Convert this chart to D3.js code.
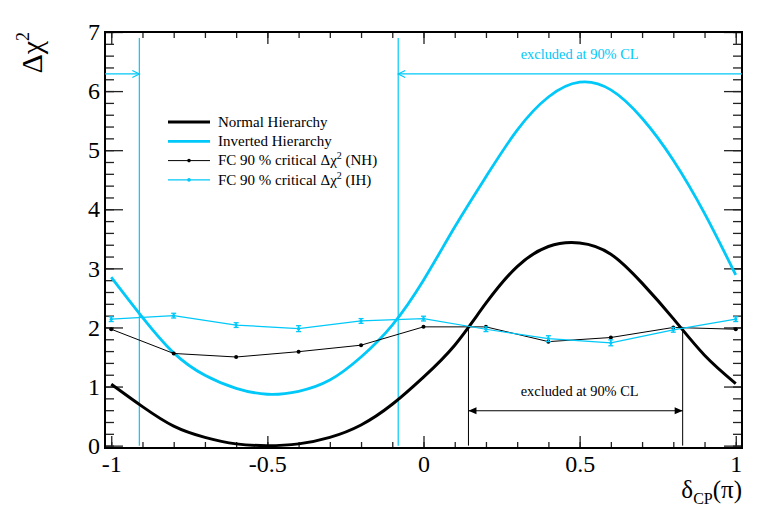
<!DOCTYPE html>
<html>
<head>
<meta charset="utf-8">
<script src="https://cdnjs.cloudflare.com/ajax/libs/d3/7.8.5/d3.min.js"></script>
<style>
  body { margin: 0; background: #fff; }
  svg { display: block; font-family: "Liberation Serif", "Times New Roman", serif; }
</style>
</head>
<body>
<svg id="drawing_region"></svg>
<script>
const curveX = [-1, -0.9, -0.8, -0.7, -0.6, -0.5, -0.4, -0.3, -0.2, -0.1, 0,
                0.1, 0.2, 0.3, 0.4, 0.5, 0.6, 0.7, 0.8, 0.9, 1];
const nhChi2 = [1.04, 0.66, 0.33, 0.14, 0.03, 0.0, 0.03, 0.14, 0.35, 0.70, 1.16,
                1.70, 2.41, 3.03, 3.37, 3.43, 3.24, 2.75, 2.15, 1.53, 1.05];
const ihChi2 = [2.85, 2.17, 1.57, 1.19, 0.97, 0.87, 0.92, 1.11, 1.50, 2.04, 2.80,
                3.70, 4.55, 5.34, 5.90, 6.15, 6.02, 5.54, 4.83, 3.93, 2.89];

// Feldman-Cousins critical values
const fcX = [-1, -0.8, -0.6, -0.4, -0.2, 0, 0.2, 0.4, 0.6, 0.8, 1];
const fcNH = [1.97, 1.56, 1.50, 1.59, 1.70, 2.01, 2.01, 1.76, 1.83, 2.00, 1.97];
const fcIH = [2.14, 2.20, 2.04, 1.98, 2.11, 2.15, 1.97, 1.81, 1.74, 1.96, 2.14];
const fcIHErr = [0.04, 0.04, 0.04, 0.05, 0.04, 0.04, 0.04, 0.05, 0.05, 0.04, 0.04];

// excluded region boundaries
const ihLimits = [-0.91, -0.081];
const nhLimits = [0.144, 0.83];
const nhCrossing = 2.01;

const xTicks = [-1, -0.5, 0, 0.5, 1];
const xTickLabels = ["-1", "-0.5", "0", "0.5", "1"];
const yTicks = [0, 1, 2, 3, 4, 5, 6, 7];
const yTickLabels = ["0", "1", "2", "3", "4", "5", "6", "7"];

const legendLabels = ["Normal Hierarchy", "Inverted Hierarchy",
                      "FC 90 % critical Δχ^2 (NH)", "FC 90 % critical Δχ^2 (IH)"];

const black = "#000";
const cyan = "#00c8f8";
const serif = "'Liberation Serif', 'Times New Roman', serif";

const config = {
    width: 760,
    height: 522,
    margin: {top: 32, right: 18, bottom: 74, left: 105}
};

const svg = d3.select("#drawing_region")
    .attr("width", config.width)
    .attr("height", config.height);

const plotL = config.margin.left;
const plotR = config.width - config.margin.right;
const plotT = config.margin.top;
const plotB = config.height - config.margin.bottom;

const xscale = d3.scaleLinear().domain([-1.02, 1.02]).range([plotL, plotR]);
const yscale = d3.scaleLinear().domain([-0.04, 7]).range([plotB, plotT]);

// ---- axes (ROOT style, ticks inside, on all four sides)
const xMinor = d3.range(-10, 11).map(i => i / 10);
const yMinor = d3.range(0, 36).map(i => i / 5);

function drawAxis(axis, tx, ty) {
    const g = svg.append("g")
        .attr("transform", `translate(${tx},${ty})`)
        .call(axis)
        .attr("font-family", serif)
        .attr("font-size", 24);
    g.select(".domain").remove();
    g.selectAll("line").attr("stroke", "#222").attr("stroke-width", 1.3);
    g.selectAll("text").attr("fill", "#000");
    return g;
}

drawAxis(d3.axisBottom(xscale).tickValues(xMinor).tickSize(-6).tickFormat(""), 0, plotB);
drawAxis(d3.axisBottom(xscale).tickValues(xTicks).tickSize(-12).tickPadding(7)
    .tickFormat((d, i) => xTickLabels[i]), 0, plotB);
drawAxis(d3.axisTop(xscale).tickValues(xMinor).tickSize(-6).tickFormat(""), 0, plotT);
drawAxis(d3.axisTop(xscale).tickValues(xTicks).tickSize(-12).tickFormat(""), 0, plotT);

drawAxis(d3.axisLeft(yscale).tickValues(yMinor).tickSize(-9).tickFormat(""), plotL, 0);
drawAxis(d3.axisLeft(yscale).tickValues(yTicks).tickSize(-18).tickPadding(5)
    .tickFormat((d, i) => yTickLabels[i]), plotL, 0);
drawAxis(d3.axisRight(yscale).tickValues(yMinor).tickSize(-9).tickFormat(""), plotR, 0);
drawAxis(d3.axisRight(yscale).tickValues(yTicks).tickSize(-18).tickFormat(""), plotR, 0);

svg.append("rect")
    .attr("x", plotL).attr("y", plotT)
    .attr("width", plotR - plotL).attr("height", plotB - plotT)
    .attr("fill", "none").attr("stroke", "#000").attr("stroke-width", 2);

// axis titles
svg.append("text")
    .attr("transform", `translate(42,${plotT}) rotate(-90)`)
    .attr("text-anchor", "end")
    .attr("font-size", 30)
    .text("Δχ")
    .append("tspan").attr("font-size", 18).attr("dy", -13).text("2");

const xt = svg.append("text")
    .attr("x", plotR).attr("y", 498)
    .attr("text-anchor", "end")
    .attr("font-size", 25);
xt.append("tspan").text("δ");
xt.append("tspan").attr("font-size", 16).attr("dy", 6).text("CP");
xt.append("tspan").attr("dy", -6).text("(π)");

// ---- excluded region markers
const chart = svg.append("g");

ihLimits.forEach(v => {
    chart.append("line")
        .attr("x1", xscale(v)).attr("x2", xscale(v))
        .attr("y1", yscale(6.9)).attr("y2", yscale(0))
        .attr("stroke", cyan).attr("stroke-width", 1.2);
});
nhLimits.forEach(v => {
    chart.append("line")
        .attr("x1", xscale(v)).attr("x2", xscale(v))
        .attr("y1", yscale(nhCrossing)).attr("y2", yscale(0))
        .attr("stroke", black).attr("stroke-width", 1);
});

// cyan arrows (open heads)
const ihArrowY = yscale(6.29);
function openHead(x, y, dir) {
    return `M${x - dir * 7},${y - 3.5}L${x},${y}L${x - dir * 7},${y + 3.5}`;
}
chart.append("line")
    .attr("x1", xscale(-1.02)).attr("x2", xscale(ihLimits[0]))
    .attr("y1", ihArrowY).attr("y2", ihArrowY)
    .attr("stroke", cyan).attr("stroke-width", 1.2);
chart.append("path").attr("d", openHead(xscale(ihLimits[0]), ihArrowY, 1))
    .attr("fill", "none").attr("stroke", cyan).attr("stroke-width", 1.2);
chart.append("line")
    .attr("x1", xscale(1.02)).attr("x2", xscale(ihLimits[1]))
    .attr("y1", ihArrowY).attr("y2", ihArrowY)
    .attr("stroke", cyan).attr("stroke-width", 1.2);
chart.append("path").attr("d", openHead(xscale(ihLimits[1]), ihArrowY, -1))
    .attr("fill", "none").attr("stroke", cyan).attr("stroke-width", 1.2);
chart.append("text")
    .attr("x", xscale(0.5)).attr("y", yscale(6.54))
    .attr("text-anchor", "middle").attr("font-size", 14.4).attr("fill", cyan)
    .text("excluded at 90% CL");

// black double arrow (filled heads)
const nhArrowY = yscale(0.59);
const ax1 = xscale(nhLimits[0]), ax2 = xscale(nhLimits[1]);
chart.append("line")
    .attr("x1", ax1).attr("x2", ax2)
    .attr("y1", nhArrowY).attr("y2", nhArrowY)
    .attr("stroke", black).attr("stroke-width", 1.2);
chart.append("path")
    .attr("d", `M${ax1},${nhArrowY}L${ax1 + 8},${nhArrowY - 3.5}L${ax1 + 8},${nhArrowY + 3.5}Z` +
               `M${ax2},${nhArrowY}L${ax2 - 8},${nhArrowY - 3.5}L${ax2 - 8},${nhArrowY + 3.5}Z`)
    .attr("fill", black);
chart.append("text")
    .attr("x", xscale(0.5)).attr("y", yscale(0.84))
    .attr("text-anchor", "middle").attr("font-size", 14.4).attr("fill", black)
    .text("excluded at 90% CL");

// ---- chi2 curves
const smooth = d3.line()
    .x(d => xscale(d[0]))
    .y(d => yscale(d[1]))
    .curve(d3.curveNatural);
const straight = d3.line()
    .x(d => xscale(d[0]))
    .y(d => yscale(d[1]));

chart.append("path")
    .datum(curveX.map((x, i) => [x, ihChi2[i]]))
    .attr("d", smooth)
    .attr("fill", "none").attr("stroke", cyan).attr("stroke-width", 2.8);
chart.append("path")
    .datum(curveX.map((x, i) => [x, nhChi2[i]]))
    .attr("d", smooth)
    .attr("fill", "none").attr("stroke", black).attr("stroke-width", 3);

// FC critical values
chart.append("path")
    .datum(fcX.map((x, i) => [x, fcNH[i]]))
    .attr("d", straight)
    .attr("fill", "none").attr("stroke", black).attr("stroke-width", 1);
chart.selectAll(".fcnh")
    .data(fcX.map((x, i) => [x, fcNH[i]]))
    .enter().append("circle")
    .attr("cx", d => xscale(d[0])).attr("cy", d => yscale(d[1]))
    .attr("r", 2).attr("fill", black);

chart.append("path")
    .datum(fcX.map((x, i) => [x, fcIH[i]]))
    .attr("d", straight)
    .attr("fill", "none").attr("stroke", cyan).attr("stroke-width", 1.2);
const errs = chart.selectAll(".fcih")
    .data(fcX.map((x, i) => [x, fcIH[i], fcIHErr[i]]))
    .enter().append("g");
errs.append("line")
    .attr("x1", d => xscale(d[0])).attr("x2", d => xscale(d[0]))
    .attr("y1", d => yscale(d[1] - d[2])).attr("y2", d => yscale(d[1] + d[2]))
    .attr("stroke", cyan).attr("stroke-width", 1.5);
[-1, 1].forEach(s => {
    errs.append("line")
        .attr("x1", d => xscale(d[0]) - 2.5).attr("x2", d => xscale(d[0]) + 2.5)
        .attr("y1", d => yscale(d[1] + s * d[2])).attr("y2", d => yscale(d[1] + s * d[2]))
        .attr("stroke", cyan).attr("stroke-width", 1.3);
});
errs.append("circle")
    .attr("cx", d => xscale(d[0])).attr("cy", d => yscale(d[1]))
    .attr("r", 1.6).attr("fill", cyan);

// ---- legend
const legend = svg.append("g").attr("transform", "translate(168,122)");
const legendStyle = [
    {color: black, width: 3, marker: false},
    {color: cyan, width: 2.8, marker: false},
    {color: black, width: 1, marker: true},
    {color: cyan, width: 1.2, marker: true}
];
legendLabels.forEach((label, i) => {
    const row = legend.append("g").attr("transform", `translate(0,${i * 19.3})`);
    row.append("line")
        .attr("x1", 0).attr("x2", 42)
        .attr("stroke", legendStyle[i].color)
        .attr("stroke-width", legendStyle[i].width);
    if (legendStyle[i].marker) {
        row.append("circle").attr("cx", 21).attr("r", 1.8).attr("fill", legendStyle[i].color);
    }
    const t = row.append("text").attr("x", 50).attr("y", 4.8).attr("font-size", 15);
    const parts = label.split("^2");
    t.append("tspan").text(parts[0]);
    if (parts.length > 1) {
        t.append("tspan").attr("font-size", 10).attr("dy", -6).text("2");
        t.append("tspan").attr("dy", 6).text(parts[1]);
    }
});
</script>
</body>
</html>
